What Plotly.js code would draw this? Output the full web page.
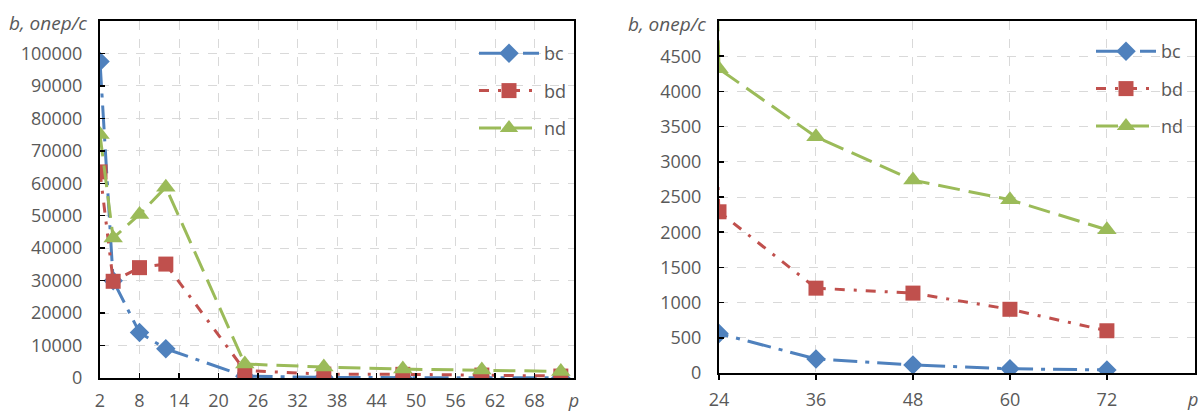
<!DOCTYPE html>
<html>
<head>
<meta charset="utf-8">
<script src="https://cdn.plot.ly/plotly-3.0.1.min.js"></script>
<style>html,body{margin:0;padding:0;background:#fff;}#chart{width:1200px;height:412px;}</style>
</head>
<body>
<div id="chart"></div>
<script>
// Data
const pValues = [2, 4, 8, 12, 24, 36, 48, 60, 72];
const bcValues = [97500, 30000, 14000, 9000, 560, 200, 115, 60, 43];
const bdValues = [63500, 29800, 34000, 35100, 2290, 1205, 1135, 905, 600];
const ndValues = [75000, 43100, 50400, 58800, 4320, 3355, 2740, 2460, 2035];
const seriesNames = ["bc", "bd", "nd"];
const leftXTicks = [2, 8, 14, 20, 26, 32, 38, 44, 50, 56, 62, 68, 74];
const leftXTickText = ["2", "8", "14", "20", "26", "32", "38", "44", "50", "56", "62", "68", "<i>p</i>"];
const leftYTicks = [0, 10000, 20000, 30000, 40000, 50000, 60000, 70000, 80000, 90000, 100000];
const rightXTicks = [24, 36, 48, 60, 72];
const rightYTicks = [0, 500, 1000, 1500, 2000, 2500, 3000, 3500, 4000, 4500];
const yTitle = "<i>b, опер/с</i>";

const colors = ["#4F81BD", "#C0504D", "#9BBB59"];
const dashes = ["24px,8px,4px,8px", "10px,9px,3px,9px", "22px,9px"];
const symbols = ["diamond", "square", "triangle-up"];
const sizes = [15, 15, 17];
const values = [bcValues, bdValues, ndValues];

const traces = [];
for (let side = 0; side < 2; side++) {
  for (let i = 0; i < 3; i++) {
    traces.push({
      type: "scatter",
      mode: "lines+markers",
      x: pValues,
      y: values[i],
      name: seriesNames[i],
      xaxis: side === 0 ? "x" : "x2",
      yaxis: side === 0 ? "y" : "y2",
      legend: side === 0 ? "legend" : "legend2",
      legendgroup: "g" + side + i,
      line: {color: colors[i], width: 3, dash: dashes[i]},
      marker: {symbol: symbols[i], size: sizes[i], color: colors[i], line: {width: 0}},
      cliponaxis: true
    });
  }
}

const tickFont = {family: "Open Sans, sans-serif", size: 18, color: "#595959"};
const titleFont = {family: "Open Sans, sans-serif", size: 19, color: "#595959"};
const gridCommon = {
  showgrid: true, gridcolor: "#D9D9D9", gridwidth: 1, griddash: "dash",
  showline: true, linecolor: "#000", linewidth: 2, mirror: true,
  zeroline: false, tickfont: tickFont, tickcolor: "#000", ticklen: 5, tickwidth: 1.5,
  tickformat: "d"
};

const legendCommon = {
  font: {family: "Open Sans, sans-serif", size: 18, color: "#595959"},
  bgcolor: "rgba(0,0,0,0)", borderwidth: 0,
  itemwidth: 60, traceorder: "grouped", tracegroupgap: 11,
  xanchor: "left", yanchor: "top"
};

const layout = {
  width: 1200, height: 412,
  margin: {l: 0, r: 0, t: 0, b: 0},
  paper_bgcolor: "#fff", plot_bgcolor: "#fff",
  showlegend: true,
  xaxis: Object.assign({}, gridCommon, {
    domain: [100/1200, 574/1200], range: [2, 74], anchor: "y",
    tickmode: "array", tickvals: leftXTicks, ticktext: leftXTickText,
    ticks: "inside", ticklabelstandoff: 5
  }),
  yaxis: Object.assign({}, gridCommon, {
    domain: [34/412, 391/412], range: [0, 110000], anchor: "x",
    tickmode: "array", tickvals: leftYTicks,
    ticks: "inside", ticklabelstandoff: 12
  }),
  xaxis2: Object.assign({}, gridCommon, {
    domain: [719/1200, 1195/1200], range: [24, 82.9], anchor: "y2",
    tickmode: "array", tickvals: rightXTicks,
    ticks: "outside", ticklabelstandoff: 4
  }),
  yaxis2: Object.assign({}, gridCommon, {
    domain: [39/412, 391/412], range: [0, 5000], anchor: "x2",
    tickmode: "array", tickvals: rightYTicks,
    ticks: "inside", ticklabelstandoff: 12
  }),
  legend: Object.assign({}, legendCommon, {x: 474/1200, y: 1 - 35/412}),
  legend2: Object.assign({}, legendCommon, {x: 1091/1200, y: 1 - 33/412}),
  annotations: [
    {text: yTitle, xref: "paper", yref: "paper", x: 89/1200, y: 1 - 23/412,
     xanchor: "right", yanchor: "middle", showarrow: false, font: titleFont},
    {text: yTitle, xref: "paper", yref: "paper", x: 708/1200, y: 1 - 24/412,
     xanchor: "right", yanchor: "middle", showarrow: false, font: titleFont},
    {text: "<i>p</i>", xref: "paper", yref: "paper", x: 1192/1200, y: 1 - 399/412,
     xanchor: "center", yanchor: "middle", showarrow: false, font: tickFont}
  ]
};

Plotly.newPlot("chart", traces, layout, {staticPlot: true, displayModeBar: false});
</script>
</body>
</html>
